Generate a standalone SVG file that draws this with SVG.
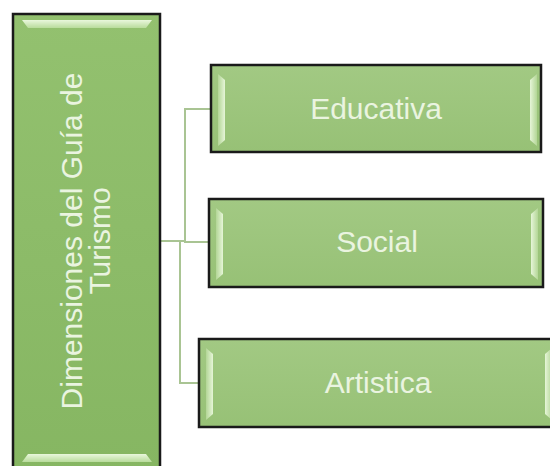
<svg xmlns="http://www.w3.org/2000/svg" width="550" height="466" viewBox="0 0 550 466">
<defs>
<linearGradient id="gMain" x1="0" y1="0" x2="0" y2="1">
<stop offset="0" stop-color="#93c16f"/>
<stop offset="1" stop-color="#86b662"/>
</linearGradient>
<linearGradient id="gChild" x1="0" y1="0" x2="0" y2="1">
<stop offset="0" stop-color="#a2c983"/>
<stop offset="1" stop-color="#97c176"/>
</linearGradient>
<linearGradient id="gBarH" x1="0" y1="0" x2="0" y2="1">
<stop offset="0" stop-color="#e9f7dc"/>
<stop offset="1" stop-color="#b9dc9c"/>
</linearGradient>
<linearGradient id="gBarL" x1="0" y1="0" x2="1" y2="0">
<stop offset="0" stop-color="#b3d696"/>
<stop offset="1" stop-color="#e6f5d8"/>
</linearGradient>
<linearGradient id="gBarR" x1="0" y1="0" x2="1" y2="0">
<stop offset="0" stop-color="#e6f5d8"/>
<stop offset="1" stop-color="#b3d696"/>
</linearGradient>
</defs>
<style>
.box{stroke:#1a1a1a;stroke-width:2.5}
.main{fill:url(#gMain)}
.child{fill:url(#gChild)}
.lbl{font-family:"Liberation Sans",Arial,sans-serif;font-size:30px;fill:#eaf4e0;text-anchor:middle}
.conn{fill:none;stroke:#a9c493;stroke-width:2}
</style>
<rect width="550" height="466" fill="#ffffff"/>
<g id="connectors">
<path class="conn" d="M160,241 H185 V109 H211"/>
<path class="conn" d="M185,241 V242 H209"/>
<path class="conn" d="M180,241 V383 H199"/>
</g>
<g id="node-main">
<rect class="box main" x="13" y="14" width="147" height="460"/>
<polygon points="22,20 152,20 146,28 28,28" fill="url(#gBarH)"/>
<polygon points="28,454 146,454 152,462 22,462" fill="url(#gBarH)"/>
<text class="lbl" transform="translate(86,241) rotate(-90)"><tspan x="0" y="-4">Dimensiones del Guía de</tspan><tspan x="0" y="24">Turismo</tspan></text>
</g>
<g id="node-educativa">
<rect class="box child" x="211" y="65" width="330" height="87"/>
<polygon points="218,74 225,80 225,140 218,146" fill="url(#gBarL)"/>
<polygon points="537,74 530,80 530,140 537,146" fill="url(#gBarR)"/>
<text class="lbl" x="376" y="119">Educativa</text>
</g>
<g id="node-social">
<rect class="box child" x="209" y="199" width="334" height="88"/>
<polygon points="216,208 223,214 223,274 216,280" fill="url(#gBarL)"/>
<polygon points="538,208 531,214 531,274 538,280" fill="url(#gBarR)"/>
<text class="lbl" x="377" y="252">Social</text>
</g>
<g id="node-artistica">
<rect class="box child" x="199" y="339" width="360" height="88"/>
<polygon points="206,348 213,354 213,414 206,420" fill="url(#gBarL)"/>
<polygon points="552,348 545,354 545,414 552,420" fill="url(#gBarR)"/>
<text class="lbl" x="378" y="393">Artistica</text>
</g>
</svg>
